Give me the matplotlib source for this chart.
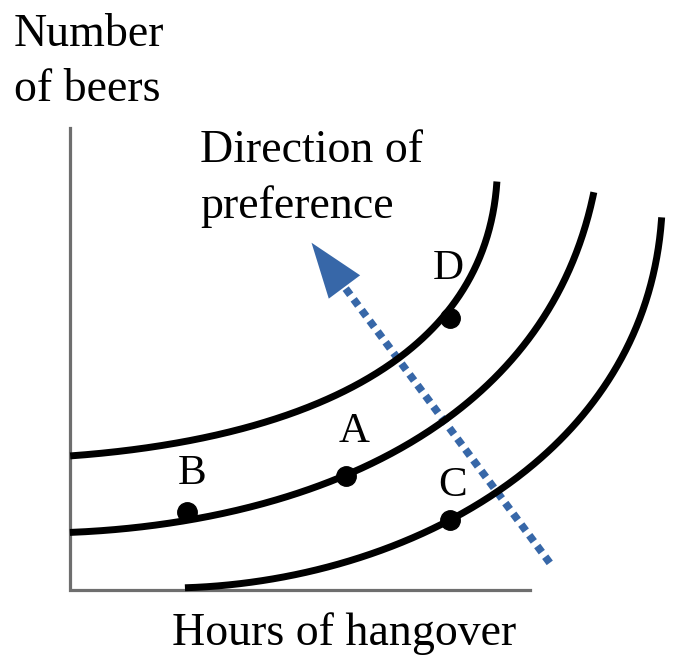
import numpy as np
import matplotlib
matplotlib.use("Agg")
from matplotlib import pyplot as plt

plt.rcParams['font.family'] = ['Liberation Serif', 'DejaVu Serif']

# indifference curves (hours of hangover, number of beers)
ic_low_x = [2.5, 4.13, 7.33, 8.22, 9.35, 11.09, 11.89, 12.54, 12.87]
ic_low_y = [0.04, 0.28, 1.09, 1.52, 2.15, 3.48, 5.07, 6.67, 8.09]
ic_mid_x = [0.0, 2.54, 4.13, 6.02, 7.02, 8.37, 9.5, 10.43, 11.09, 11.39]
ic_mid_y = [1.24, 1.67, 1.89, 2.50, 2.89, 3.59, 5.07, 6.37, 7.54, 8.63]
ic_top_x = [0.0, 1.96, 4.13, 5.59, 7.11, 8.22, 8.76, 9.13, 9.28]
ic_top_y = [2.91, 3.20, 3.59, 4.13, 5.07, 5.91, 6.96, 8.04, 8.87]

# labelled bundles
point_names = ['B', 'A', 'C', 'D']
point_x = [2.54, 6.0, 8.26, 8.26]
point_y = [1.70, 2.48, 1.52, 5.91]

# direction of preference arrow (tail -> tip)
arrow_tail = (10.43, 0.59)
arrow_tip = (5.25, 7.55)

blue = '#3767a8'


def smooth(xs, ys, deg=3, n=300):
    # least-squares parametric cubic through the read-off points (drawing only)
    p = np.column_stack([xs, ys]).astype(float)
    t = np.concatenate([[0], np.cumsum(np.linalg.norm(np.diff(p, axis=0), axis=1))])
    t = t / t[-1]
    w = np.ones(len(t))
    w[0] = w[-1] = 2.5
    cx = np.polyfit(t, p[:, 0], deg, w=w)
    cy = np.polyfit(t, p[:, 1], deg, w=w)
    tt = np.linspace(0, 1, n)
    return np.polyval(cx, tt), np.polyval(cy, tt)


fig = plt.figure(figsize=(6.73, 6.6), dpi=100)
ax = fig.add_axes([0, 0, 1, 1])
ax.set_xlim(-70 / 46, 603 / 46)
ax.set_ylim(-70 / 46, 590 / 46)
ax.axis('off')

# axes
ax.plot([0, 0, 10], [10.04, 0, 0], color='#6e6e6e', lw=2.3,
        solid_joinstyle='miter', zorder=1)

for xs, ys in [(ic_low_x, ic_low_y), (ic_mid_x, ic_mid_y), (ic_top_x, ic_top_y)]:
    sx, sy = smooth(xs, ys)
    ax.plot(sx, sy, color='black', lw=5, solid_capstyle='butt', zorder=3)

ax.plot(point_x, point_y, 'o', color='black', ms=14, zorder=4)
label_dx = [4, 6, 2, -1]
label_dy = [20, 24.5, 17, 28]
for name, x, y, dx, dy in zip(point_names, point_x, point_y, label_dx, label_dy):
    ax.annotate(name, (x, y), xytext=(dx, dy), textcoords='offset points',
                ha='center', va='baseline', fontsize=31)

# arrow: dotted shaft + solid head
tail = np.array(arrow_tail)
tip = np.array(arrow_tip)
d = (tip - tail) / np.linalg.norm(tip - tail)
nrm = np.array([-d[1], d[0]])
head_len, head_w = 1.2, 0.85
base = tip - d * head_len
ax.plot([tail[0], base[0]], [tail[1], base[1]], color=blue, lw=5.5,
        linestyle=(0, (1, 0.75)), dash_capstyle='butt', zorder=2)
ax.fill([tip[0], base[0] + nrm[0] * head_w / 2, base[0] - nrm[0] * head_w / 2],
        [tip[1], base[1] + nrm[1] * head_w / 2, base[1] - nrm[1] * head_w / 2],
        color=blue, lw=0, zorder=2)

ax.text(-56 / 46, 577 / 46, 'Number\nof beers', fontsize=33,
        ha='left', va='top', linespacing=1.4)
ax.text(130 / 46, 460 / 46, 'Direction of\npreference', fontsize=33,
        ha='left', va='top', linespacing=1.4)
ax.text(5.97, -55 / 46, 'Hours of hangover', fontsize=33,
        ha='center', va='baseline')

fig.savefig('out.png', dpi=100)
